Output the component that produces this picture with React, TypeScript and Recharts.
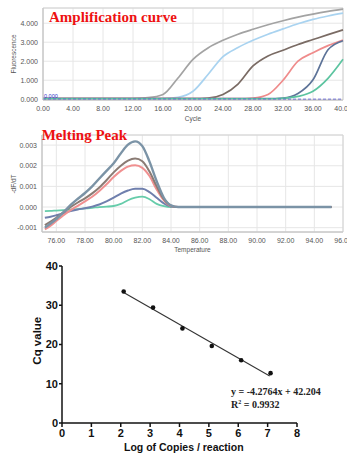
import React from 'react';
import {
  LineChart,
  Line,
  XAxis,
  YAxis,
  CartesianGrid,
  ReferenceLine,
  ReferenceArea,
  ComposedChart,
  Scatter,
} from 'recharts';

// ---------- Amplification curve ----------
const cycles = [0, 2, 4, 6, 8, 10, 12, 14, 16, 18, 20, 22, 24, 26, 28, 30, 32, 34, 36, 38, 40];
const ampGray = [0.03, 0.03, 0.03, 0.03, 0.03, 0.03, 0.04, 0.08, 0.25, 1.12, 2.1, 2.7, 3.1, 3.42, 3.68, 3.92, 4.13, 4.32, 4.48, 4.62, 4.74];
const ampLightBlue = [0.03, 0.03, 0.03, 0.03, 0.03, 0.03, 0.03, 0.03, 0.04, 0.1, 0.42, 1.3, 2.24, 2.72, 3.1, 3.42, 3.7, 3.97, 4.2, 4.38, 4.53];
const ampBrown = [0.03, 0.03, 0.03, 0.03, 0.03, 0.03, 0.03, 0.03, 0.03, 0.03, 0.03, 0.06, 0.25, 0.8, 1.75, 2.28, 2.58, 2.88, 3.14, 3.4, 3.65];
const ampSalmon = [0.03, 0.03, 0.03, 0.03, 0.03, 0.03, 0.03, 0.03, 0.03, 0.03, 0.03, 0.03, 0.03, 0.03, 0.06, 0.25, 1.0, 2.0, 2.45, 2.82, 3.12];
const ampSlate = [0.03, 0.03, 0.03, 0.03, 0.03, 0.03, 0.03, 0.03, 0.03, 0.03, 0.03, 0.03, 0.03, 0.03, 0.03, 0.03, 0.06, 0.3, 1.02, 2.6, 3.08];
const ampTeal = [0.02, 0.02, 0.02, 0.02, 0.02, 0.02, 0.02, 0.02, 0.02, 0.02, 0.02, 0.02, 0.02, 0.02, 0.02, 0.02, 0.05, 0.15, 0.42, 1.1, 2.1];
const ampXTicks = [0, 4, 8, 12, 16, 20, 24, 28, 32, 36, 40];
const ampYTicks = [0, 1, 2, 3, 4];
const ampThreshold = 0;

// ---------- Melting peak (values in units of 0.001) ----------
const temps = [75.2, 75.6, 76, 76.5, 77, 77.5, 78, 78.5, 79, 79.5, 80, 80.5, 81, 81.5, 82, 82.5, 83, 83.5, 84, 84.5, 85, 86, 88, 90, 92, 94, 95.2];
const meltTop = [-1.0, -0.8, -0.58, -0.25, 0.1, 0.4, 0.68, 1.0, 1.38, 1.75, 2.12, 2.6, 3.02, 3.18, 2.95, 2.2, 1.25, 0.45, 0.08, 0, 0, 0, 0, 0, 0, 0, 0];
const meltBrown = [-0.88, -0.7, -0.52, -0.25, 0.0, 0.22, 0.42, 0.66, 0.95, 1.3, 1.68, 2.0, 2.25, 2.35, 2.22, 1.72, 1.0, 0.38, 0.07, 0, 0, 0, 0, 0, 0, 0, 0];
const meltRed = [-1.08, -0.9, -0.68, -0.4, -0.15, 0.06, 0.27, 0.5, 0.78, 1.1, 1.45, 1.75, 1.96, 2.02, 1.9, 1.5, 0.85, 0.32, 0.05, 0, 0, 0, 0, 0, 0, 0, 0];
const meltSlate = [-0.52, -0.47, -0.4, -0.3, -0.2, -0.12, -0.06, 0.02, 0.12, 0.27, 0.45, 0.65, 0.8, 0.88, 0.88, 0.72, 0.45, 0.18, 0.03, 0, 0, 0, 0, 0, 0, 0, 0];
const meltTeal = [-0.2, -0.19, -0.17, -0.15, -0.12, -0.1, -0.07, -0.04, 0.0, 0.02, 0.05, 0.15, 0.33, 0.45, 0.5, 0.38, 0.15, 0.04, 0.0, 0, 0, 0, 0, 0, 0, 0, 0];
const meltXTicks = [76, 78, 80, 82, 84, 86, 88, 90, 92, 94, 96];
const meltYTicks = [-0.001, 0, 0.001, 0.002, 0.003];

// ---------- Standard curve ----------
const logCopies = [2.1, 3.1, 4.1, 5.1, 6.1, 7.1];
const cqValues = [33.5, 29.4, 24.1, 19.6, 16.0, 12.7];
const trendX = [2.07, 7.07];
const trendY = [33.35, 11.97];
const stdXTicks = [0, 1, 2, 3, 4, 5, 6, 7, 8];
const stdYTicks = [0, 10, 20, 30, 40];

const ampData = cycles.map((c, i) => ({
  cycle: c,
  gray: ampGray[i],
  lightBlue: ampLightBlue[i],
  brown: ampBrown[i],
  salmon: ampSalmon[i],
  slate: ampSlate[i],
  teal: ampTeal[i],
}));

const meltData = temps.map((t, i) => ({
  t,
  top: meltTop[i] / 1000,
  brown: meltBrown[i] / 1000,
  red: meltRed[i] / 1000,
  slate: meltSlate[i] / 1000,
  teal: meltTeal[i] / 1000,
}));

const stdPoints = logCopies.map((x, i) => ({ x, y: cqValues[i] }));
const trendPoints = trendX.map((x, i) => ({ x, y: trendY[i] }));

const smallTick = { fontSize: 7, fill: '#555', fontFamily: 'Liberation Sans, Arial, sans-serif' };
const boldTick = { fontSize: 11, fill: '#111', fontWeight: 700, fontFamily: 'Liberation Sans, Arial, sans-serif' };

const Dot = (props: any) => <circle cx={props.cx} cy={props.cy} r={2.3} fill="#111" />;

export default function App() {
  return (
    <div style={{ position: 'absolute', left: 0, top: 0, width: 347, height: 455, background: '#fff', overflow: 'hidden' }}>
      <div style={{ position: 'absolute', left: 0, top: 0 }}>
        <LineChart width={347} height={122} data={ampData} margin={{ top: 8, right: 4, bottom: 0, left: 0 }}>
          <CartesianGrid stroke="#e6e6e6" />
          <ReferenceArea x1={0} x2={40} y1={-0.04} y2={4.8} fill="none" stroke="#d2d2d2" />
          <XAxis
            dataKey="cycle"
            type="number"
            domain={[0, 40]}
            ticks={ampXTicks}
            interval={0}
            tickFormatter={(v: number) => v.toFixed(2)}
            tickLine={false}
            tickSize={3}
            tickMargin={3}
            height={22}
            axisLine={{ stroke: '#c4c4c4' }}
            tick={smallTick}
          />
          <YAxis
            type="number"
            domain={[-0.04, 4.8]}
            ticks={ampYTicks}
            interval={0}
            tickFormatter={(v: number) => v.toFixed(3)}
            tickLine={false}
            tickSize={3}
            tickMargin={2}
            width={43}
            axisLine={{ stroke: '#c4c4c4' }}
            tick={smallTick}
          />
          <Line type="monotone" dataKey="gray" stroke="#a3a3a3" strokeWidth={1.7} dot={false} isAnimationActive={false} />
          <Line type="monotone" dataKey="lightBlue" stroke="#a9d3f0" strokeWidth={1.7} dot={false} isAnimationActive={false} />
          <Line type="monotone" dataKey="brown" stroke="#7a6b64" strokeWidth={1.7} dot={false} isAnimationActive={false} />
          <Line type="monotone" dataKey="salmon" stroke="#ef8b8b" strokeWidth={1.7} dot={false} isAnimationActive={false} />
          <Line type="monotone" dataKey="slate" stroke="#5d7398" strokeWidth={1.7} dot={false} isAnimationActive={false} />
          <Line type="monotone" dataKey="teal" stroke="#5cc4a0" strokeWidth={1.7} dot={false} isAnimationActive={false} />
          <ReferenceLine y={ampThreshold} stroke="#3b3bd6" strokeWidth={1.2} strokeDasharray="3 2" />
        </LineChart>
      </div>

      <div style={{ position: 'absolute', left: 0, top: 122 }}>
        <LineChart width={347} height={130} data={meltData} margin={{ top: 13, right: 4, bottom: 0, left: 0 }}>
          <CartesianGrid stroke="#e6e6e6" />
          <ReferenceArea x1={75} x2={96} y1={-0.00121} y2={0.00349} fill="none" stroke="#d2d2d2" />
          <XAxis
            dataKey="t"
            type="number"
            domain={[75, 96]}
            ticks={meltXTicks}
            interval={0}
            tickFormatter={(v: number) => v.toFixed(2)}
            tickLine={false}
            tickSize={3}
            tickMargin={3}
            height={20}
            axisLine={{ stroke: '#c4c4c4' }}
            tick={smallTick}
          />
          <YAxis
            type="number"
            domain={[-0.00121, 0.00349]}
            ticks={meltYTicks}
            interval={0}
            tickFormatter={(v: number) => v.toFixed(3)}
            tickLine={false}
            tickSize={3}
            tickMargin={2}
            width={42}
            axisLine={{ stroke: '#c4c4c4' }}
            tick={smallTick}
          />
          <Line type="monotone" dataKey="teal" stroke="#66ccaa" strokeWidth={1.8} dot={false} isAnimationActive={false} />
          <Line type="monotone" dataKey="slate" stroke="#6f7fad" strokeWidth={2} dot={false} isAnimationActive={false} />
          <Line type="monotone" dataKey="red" stroke="#f09090" strokeWidth={2} dot={false} isAnimationActive={false} />
          <Line type="monotone" dataKey="brown" stroke="#8a7b74" strokeWidth={2} dot={false} isAnimationActive={false} />
          <Line type="monotone" dataKey="top" stroke="#7b93a6" strokeWidth={2.4} dot={false} isAnimationActive={false} />
        </LineChart>
      </div>

      <div style={{ position: 'absolute', left: 0, top: 252 }}>
        <ComposedChart width={347} height={203} margin={{ top: 14, right: 50, bottom: 0, left: 0 }}>
          <XAxis
            dataKey="x"
            type="number"
            domain={[0, 8]}
            ticks={stdXTicks}
            interval={0}
            tickSize={4}
            tickMargin={2}
            height={32}
            axisLine={{ stroke: '#111', strokeWidth: 1.5 }}
            tickLine={{ stroke: '#111', strokeWidth: 1.5 }}
            tick={boldTick}
          />
          <YAxis
            dataKey="y"
            type="number"
            domain={[0, 40]}
            ticks={stdYTicks}
            interval={0}
            tickSize={3}
            tickMargin={1}
            width={62}
            axisLine={{ stroke: '#111', strokeWidth: 1.5 }}
            tickLine={{ stroke: '#111', strokeWidth: 1.5 }}
            tick={boldTick}
          />
          <Line data={trendPoints} type="linear" dataKey="y" stroke="#333" strokeWidth={1.1} dot={false} isAnimationActive={false} />
          <Scatter data={stdPoints} dataKey="y" shape={Dot} isAnimationActive={false} />
        </ComposedChart>
      </div>

      <svg width={347} height={455} style={{ position: 'absolute', left: 0, top: 0, pointerEvents: 'none' }}>
        <g fontFamily="Liberation Serif, Times New Roman, serif" fontWeight={700} fill="#ee1111" fontSize={15}>
          <text x={49} y={21.5}>Amplification curve</text>
          <text x={41.7} y={139.5}>Melting Peak</text>
        </g>
        <g fontFamily="Liberation Sans, Arial, sans-serif" fontSize={6.5} fill="#555" textAnchor="middle">
          <text transform="translate(15.5,54) rotate(-90)">Fluorescence</text>
          <text x={193} y={120.5}>Cycle</text>
          <text transform="translate(15.5,184) rotate(-90)">-dF/dT</text>
          <text x={192.5} y={251.5}>Temperature</text>
        </g>
        <text x={44} y={97.5} fontFamily="Liberation Sans, Arial, sans-serif" fontSize={5.5} fill="#3333cc">0.000</text>
        <g fontFamily="Liberation Sans, Arial, sans-serif" fontWeight={700} fill="#111" textAnchor="middle">
          <text transform="translate(40.5,340.7) rotate(-90)" fontSize={11.5}>Cq value</text>
          <text x={183.8} y={451} fontSize={10.5}>Log of Copies / reaction</text>
        </g>
        <g fontFamily="Liberation Serif, Times New Roman, serif" fontWeight={700} fill="#222" fontSize={10}>
          <text x={231} y={395}>y = -4.2764x + 42.204</text>
          <text x={231} y={408}>
            R<tspan fontSize={6} dy={-4}>2</tspan>
            <tspan dy={4}> = 0.9932</tspan>
          </text>
        </g>
      </svg>
    </div>
  );
}
